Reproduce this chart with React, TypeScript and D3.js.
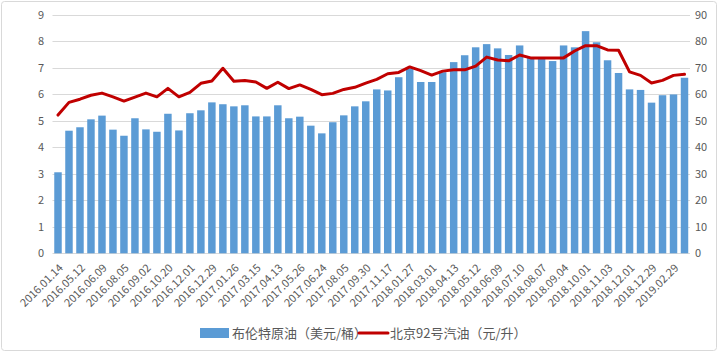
import { scaleBand, scaleLinear, line as d3line, range } from "d3";

// Brent crude (USD/barrel), right axis
const brent = [
  30.6, 46.3, 47.6, 50.6, 52.0, 46.7, 44.4, 51.0, 46.8, 45.9,
  52.7, 46.4, 52.9, 54.0, 57.0, 56.3, 55.5, 55.9, 51.7, 51.7,
  55.9, 51.0, 51.6, 48.2, 45.3, 49.5, 52.1, 55.5, 57.4, 61.9,
  61.5, 66.5, 69.9, 64.7, 64.7, 68.4, 72.2, 74.8, 77.8, 79.0,
  77.4, 74.9, 78.5, 73.9, 74.0, 72.6, 78.5, 77.8, 83.9, 79.7,
  72.9, 68.1, 61.9, 61.7, 56.9, 59.7, 60.0, 66.3,
];

// Beijing 92# gasoline (CNY/litre), left axis
const gasoline = [
  5.22, 5.70, 5.82, 5.97, 6.05, 5.91, 5.75, 5.90, 6.05, 5.91,
  6.23, 5.91, 6.08, 6.42, 6.51, 6.99, 6.50, 6.53, 6.47, 6.23,
  6.46, 6.22, 6.36, 6.19, 5.99, 6.04, 6.19, 6.27, 6.43, 6.57,
  6.78, 6.83, 7.04, 6.90, 6.73, 6.88, 6.93, 6.93, 7.07, 7.41,
  7.30, 7.27, 7.49, 7.38, 7.38, 7.38, 7.38, 7.64, 7.84, 7.84,
  7.68, 7.67, 6.85, 6.72, 6.43, 6.53, 6.72, 6.76,
];

// labels shown on every second bar
const tickLabels = [
  "2016.01.14", "2016.05.12", "2016.06.09", "2016.08.05", "2016.09.02",
  "2016.10.20", "2016.12.01", "2016.12.29", "2017.01.26", "2017.03.15",
  "2017.04.13", "2017.05.26", "2017.06.24", "2017.08.05", "2017.09.30",
  "2017.11.17", "2018.01.27", "2018.03.01", "2018.04.13", "2018.05.12",
  "2018.06.09", "2018.07.10", "2018.08.07", "2018.09.04", "2018.10.01",
  "2018.11.03", "2018.12.01", "2018.12.29", "2019.02.29",
];

const leftTicks = [0, 1, 2, 3, 4, 5, 6, 7, 8, 9];
const rightTicks = [0, 10, 20, 30, 40, 50, 60, 70, 80, 90];

const legendBar = "布伦特原油（美元/桶）";
const legendLine = "北京92号汽油（元/升）";

const W = 718;
const H = 353;
const FONT = "'Noto Sans CJK SC', 'Noto Sans', sans-serif";
const TICK_COLOR = "#595959";

export default function App() {
  const idx = range(brent.length);
  const x = scaleBand<number>()
    .domain(idx)
    .range([52.5, 690])
    .paddingInner(0.32)
    .paddingOuter(0.16);
  const yL = scaleLinear().domain([0, 9]).range([253.3, 15]);
  const yR = scaleLinear().domain([0, 90]).range([253.3, 15]);
  const cx = (i: number) => (x(i) ?? 0) + x.bandwidth() / 2;

  const linePath = d3line<number>()
    .x((_, i) => cx(i))
    .y((d) => yL(d))(gasoline);

  return (
    <svg
      width={W}
      height={H}
      style={{ position: "absolute", left: 0, top: 0, fontFamily: FONT }}
    >
      <rect x={0} y={0} width={W} height={H} fill="#fff" />
      <rect
        x={1.5}
        y={1.5}
        width={715}
        height={349}
        rx={3}
        fill="none"
        stroke="#d9d9d9"
      />

      {/* gridlines */}
      {leftTicks.map((t) => (
        <line
          key={t}
          x1={52.5}
          x2={690}
          y1={Math.round(yL(t)) + 0.5}
          y2={Math.round(yL(t)) + 0.5}
          stroke="#d9d9d9"
          strokeWidth={1}
        />
      ))}

      {/* left axis */}
      {leftTicks.map((t) => (
        <text
          key={t}
          x={44}
          y={yL(t)}
          dy="0.35em"
          textAnchor="end"
          fontSize={11}
          fill={TICK_COLOR}
        >
          {t}
        </text>
      ))}

      {/* right axis */}
      {rightTicks.map((t) => (
        <text
          key={t}
          x={695}
          y={yR(t)}
          dy="0.35em"
          textAnchor="start"
          fontSize={11}
          fill={TICK_COLOR}
        >
          {t}
        </text>
      ))}

      {/* bars */}
      {brent.map((v, i) => (
        <rect
          key={i}
          x={x(i)}
          y={yR(v)}
          width={x.bandwidth()}
          height={yR(0) - yR(v)}
          fill="#5b9bd5"
        />
      ))}

      {/* line */}
      <path
        d={linePath ?? ""}
        fill="none"
        stroke="#c00000"
        strokeWidth={3}
        strokeLinejoin="round"
        strokeLinecap="round"
      />

      {/* x labels */}
      {tickLabels.map((lab, k) => {
        const px = cx(k * 2) + 3;
        const py = 266;
        return (
          <text
            key={lab + k}
            transform={`translate(${px},${py}) rotate(-45)`}
            textAnchor="end"
            dy="0.35em"
            fontSize={11}
            fill={TICK_COLOR}
          >
            {lab}
          </text>
        );
      })}

      {/* legend */}
      <rect x={200} y={328} width={29} height={10} fill="#5b9bd5" />
      <text x={232} y={333} dy="0.35em" fontSize={13} fill={TICK_COLOR}>
        {legendBar}
      </text>
      <line
        x1={359}
        x2={388}
        y1={333}
        y2={333}
        stroke="#c00000"
        strokeWidth={3}
        strokeLinecap="round"
      />
      <text x={390} y={333} dy="0.35em" fontSize={13} fill={TICK_COLOR}>
        {legendLine}
      </text>
    </svg>
  );
}
